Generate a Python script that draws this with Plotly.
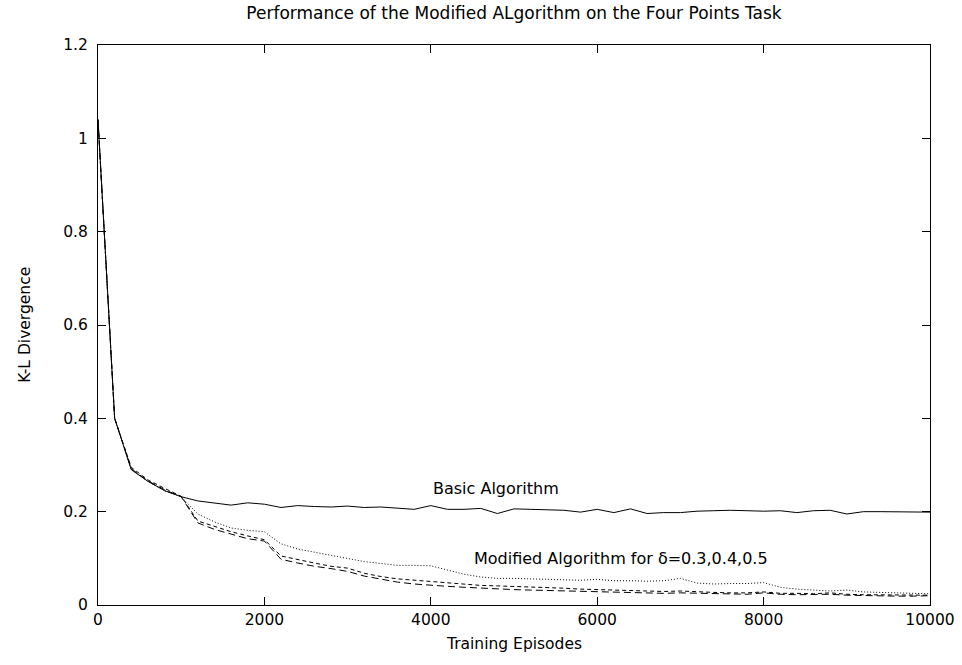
import plotly.graph_objects as go

# Training episodes, sampled every 200 episodes
episodes = list(range(0, 10001, 200))

# K-L divergence of the basic algorithm
basic = [1.04, 0.40, 0.29, 0.265, 0.245, 0.232, 0.223, 0.218, 0.214, 0.219,
         0.216, 0.209, 0.213, 0.211, 0.210, 0.212, 0.209, 0.210, 0.207, 0.205,
         0.213, 0.205, 0.205, 0.207, 0.196, 0.206, 0.205, 0.204, 0.203, 0.199,
         0.205, 0.198, 0.206, 0.196, 0.198, 0.198, 0.201, 0.202, 0.203, 0.202,
         0.201, 0.202, 0.198, 0.202, 0.203, 0.195, 0.200, 0.200, 0.200, 0.200,
         0.199]

# Modified algorithm, one run per delta value
mod_dotted = [1.04, 0.40, 0.29, 0.265, 0.245, 0.232, 0.195, 0.178, 0.165, 0.160,
              0.157, 0.131, 0.120, 0.113, 0.107, 0.100, 0.093, 0.089, 0.085, 0.085,
              0.084, 0.075, 0.066, 0.060, 0.057, 0.057, 0.056, 0.055, 0.054, 0.053,
              0.055, 0.052, 0.052, 0.051, 0.052, 0.057, 0.047, 0.045, 0.046, 0.046,
              0.048, 0.038, 0.034, 0.032, 0.030, 0.032, 0.028, 0.027, 0.026, 0.025,
              0.024]

mod_short = [1.04, 0.40, 0.295, 0.268, 0.250, 0.233, 0.180, 0.168, 0.157, 0.148,
             0.140, 0.105, 0.097, 0.090, 0.083, 0.079, 0.068, 0.061, 0.056, 0.053,
             0.050, 0.048, 0.045, 0.042, 0.041, 0.040, 0.039, 0.037, 0.036, 0.034,
             0.033, 0.032, 0.031, 0.030, 0.029, 0.030, 0.028, 0.027, 0.026, 0.026,
             0.028, 0.025, 0.025, 0.024, 0.026, 0.023, 0.022, 0.022, 0.021, 0.021,
             0.021]

mod_long = [1.04, 0.40, 0.292, 0.266, 0.247, 0.232, 0.176, 0.162, 0.152, 0.142,
            0.137, 0.098, 0.090, 0.083, 0.078, 0.072, 0.062, 0.055, 0.049, 0.045,
            0.042, 0.040, 0.038, 0.036, 0.034, 0.033, 0.032, 0.031, 0.030, 0.029,
            0.028, 0.027, 0.027, 0.026, 0.025, 0.026, 0.025, 0.024, 0.024, 0.023,
            0.026, 0.023, 0.022, 0.022, 0.023, 0.021, 0.020, 0.020, 0.019, 0.019,
            0.020]

x_ticks = [0, 2000, 4000, 6000, 8000, 10000]
x_tick_text = ["0", "2000", "4000", "6000", "8000", "10000"]
y_ticks = [0, 0.2, 0.4, 0.6, 0.8, 1, 1.2]
y_tick_text = ["0", "0.2", "0.4", "0.6", "0.8", "1", "1.2"]

FONT = "DejaVu Sans"

fig = go.Figure()

series = [
    (mod_dotted, "1px,2px"),
    (mod_short, "4px,3px"),
    (mod_long, "7px,4px"),
    (basic, "solid"),
]
for ys, dash in series:
    fig.add_trace(go.Scatter(
        x=episodes, y=ys, mode="lines",
        line=dict(color="#000000", width=1, dash=dash),
        showlegend=False, hoverinfo="skip",
    ))

axis_common = dict(
    showline=True, linecolor="#000000", linewidth=1, mirror="ticks",
    ticks="inside", ticklen=8, tickwidth=1, tickcolor="#000000",
    showgrid=False, zeroline=False, automargin=False,
    tickfont=dict(family=FONT, size=15.5, color="#000000"),
)

fig.update_layout(
    width=962, height=665,
    margin=dict(l=98, r=32, t=45, b=60, autoexpand=False),
    paper_bgcolor="white", plot_bgcolor="white",
    font=dict(family=FONT, size=16, color="#000000"),
    title=dict(
        text="Performance of the Modified ALgorithm on the Four Points Task",
        x=0.5, xref="paper", xanchor="center",
        y=1 - 13 / 665, yref="container", yanchor="middle",
        font=dict(family=FONT, size=17, color="#000000"),
    ),
    xaxis=dict(range=[0, 10000], tickvals=x_ticks, ticktext=x_tick_text,
               **axis_common),
    yaxis=dict(range=[0, 1.2], tickvals=y_ticks, ticktext=y_tick_text,
               ticklabelstandoff=6, **axis_common),
)

# Axis titles
fig.add_annotation(text="Training Episodes", xref="paper", yref="paper",
                   x=0.5, y=-0.07, xanchor="center", yanchor="middle",
                   showarrow=False, font=dict(family=FONT, size=15.5))
fig.add_annotation(text="K-L Divergence", xref="paper", yref="paper",
                   x=-0.088, y=0.5, xanchor="center", yanchor="middle",
                   textangle=-90, showarrow=False,
                   font=dict(family=FONT, size=15.5))

# Curve labels
fig.add_annotation(text="Basic Algorithm", x=4000, y=0.25,
                   xanchor="left", yanchor="middle", showarrow=False,
                   font=dict(family=FONT, size=16))
fig.add_annotation(text="Modified Algorithm for \u03b4=0.3,0.4,0.5",
                   x=4500, y=0.1, xanchor="left", yanchor="middle",
                   showarrow=False, font=dict(family=FONT, size=16))

fig.write_html("out.html")
